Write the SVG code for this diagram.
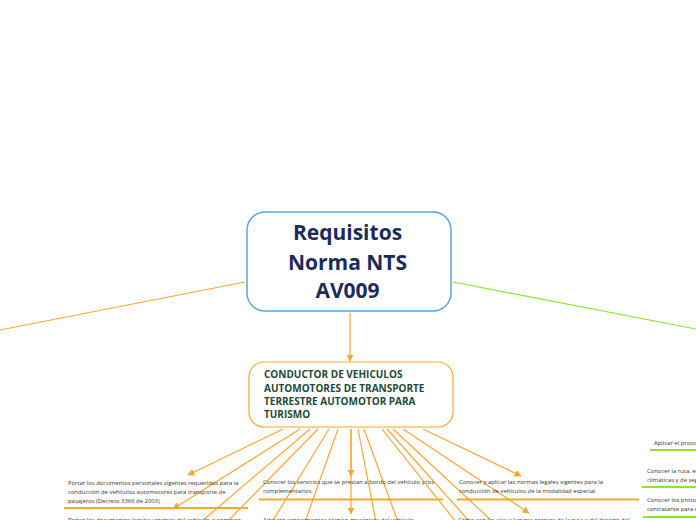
<svg xmlns="http://www.w3.org/2000/svg" width="696" height="520" viewBox="0 0 696 520">
<defs>
<style>
.or{stroke:#fca62f;stroke-width:1.2;fill:none}
.gr{stroke:#8ee52a;stroke-width:1.2;fill:none}
.ul-or{stroke:#fca62f;stroke-width:2;fill:none}
.ul-gr{stroke:#8ee52a;stroke-width:2;fill:none}
.t{font-family:"Open Sans","Noto Sans",sans-serif;font-size:5.9px;fill:#333333}
.title{font-family:"Open Sans","Noto Sans",sans-serif;font-size:21px;font-weight:bold;fill:#1b2b5a;text-anchor:middle}
.sub{font-family:"Open Sans","Noto Sans",sans-serif;font-size:10px;font-weight:bold;fill:#1e4a36}
</style>
<marker id="ao" viewBox="0 0 10 10" refX="9" refY="5" markerWidth="7" markerHeight="7" markerUnits="userSpaceOnUse" orient="auto">
<path d="M0,0 L10,5 L0,10 z" fill="#fca62f"/>
</marker>
</defs>
<rect width="696" height="520" fill="#ffffff"/>
<g id="connectors">
<path class="or" d="M245,282 L0,330"/>
<path class="gr" d="M453,282 L696,329"/>
<path class="or" d="M350,313 L350,361" marker-end="url(#ao)"/>
<path class="or" d="M283,429 L188,475" marker-end="url(#ao)"/>
<path class="or" d="M300,429 L173,509" marker-end="url(#ao)"/>
<path class="or" d="M310,429 L201,522"/>
<path class="or" d="M318,429 L227,522"/>
<path class="or" d="M329,429 L272,522"/>
<path class="or" d="M338,429 L305,522"/>
<path class="or" d="M351,429 L351,476" marker-end="url(#ao)"/>
<path class="or" d="M351,429 L351,514" marker-end="url(#ao)"/>
<path class="or" d="M358,429 L376,522"/>
<path class="or" d="M364,429 L398,522"/>
<path class="or" d="M382,429 L456,522"/>
<path class="or" d="M387,429 L470,522"/>
<path class="or" d="M393,429 L493,522"/>
<path class="or" d="M403,429 L529,513" marker-end="url(#ao)"/>
<path class="or" d="M423,429 L521,476" marker-end="url(#ao)"/>
</g>
<g id="root">
<rect x="247" y="212" width="204" height="99" rx="18" fill="#ffffff" stroke="#5ba4e0" stroke-width="1.5"/>
<text class="title" x="347.5" y="240">Requisitos</text>
<text class="title" x="347.5" y="270">Norma NTS</text>
<text class="title" x="347.5" y="298">AV009</text>
</g>
<g id="conductor">
<rect x="249" y="362" width="204" height="65" rx="15" fill="#ffffff" stroke="#fca62f" stroke-width="1.2"/>
<text class="sub" x="264" y="378">CONDUCTOR DE VEHICULOS</text>
<text class="sub" x="264" y="392">AUTOMOTORES DE TRANSPORTE</text>
<text class="sub" x="264" y="405">TERRESTRE AUTOMOTOR PARA</text>
<text class="sub" x="264" y="418">TURISMO</text>
</g>
<g id="n-docs-personales">
<text class="t" x="68" y="485">Portar los documentos personales vigentes requeridos para la</text>
<text class="t" x="68" y="494">conducción de vehículos automotores para transporte de</text>
<text class="t" x="68" y="503">pasajeros (Decreto 3366 de 2003)</text>
<path class="ul-or" d="M64,508 L248,508"/>
</g>
<g id="n-docs-vehiculo">
<text class="t" x="68" y="522">Portar los documentos legales vigentes del vehículo automotor</text>
</g>
<g id="n-servicios">
<text class="t" x="263" y="484">Conocer los servicios que se prestan a bordo del vehículo y los</text>
<text class="t" x="263" y="493">complementarios.</text>
<path class="ul-or" d="M259,499.5 L443,499.5"/>
</g>
<g id="n-tecnico">
<text class="t" x="263" y="522">Adquirir conocimientos técnico-mecánicos del vehículo</text>
</g>
<g id="n-normas">
<text class="t" x="459" y="484">Conocer y aplicar las normas legales vigentes para la</text>
<text class="t" x="459" y="493">conducción de vehículos de la modalidad especial</text>
<path class="ul-or" d="M457,499.5 L639,499.5"/>
</g>
<g id="n-vias">
<text class="t" x="458" y="522">Cómo son las vías y lugares propios de la ruta y del destino del</text>
</g>
<g id="n-aplicar">
<text class="t" x="654" y="445">Aplicar el protocolo</text>
<path class="ul-gr" d="M650,450 L696,450"/>
</g>
<g id="n-ruta">
<text class="t" x="647" y="473">Conocer la ruta, el destino y condiciones</text>
<text class="t" x="647" y="482">climáticas y de seguridad</text>
<path class="ul-gr" d="M642,487 L696,487"/>
</g>
<g id="n-protocolos">
<text class="t" x="647" y="502">Conocer los protocolos del</text>
<text class="t" x="647" y="511">contratante para el servicio</text>
<path class="ul-gr" d="M643,517 L696,517"/>
</g>
</svg>
